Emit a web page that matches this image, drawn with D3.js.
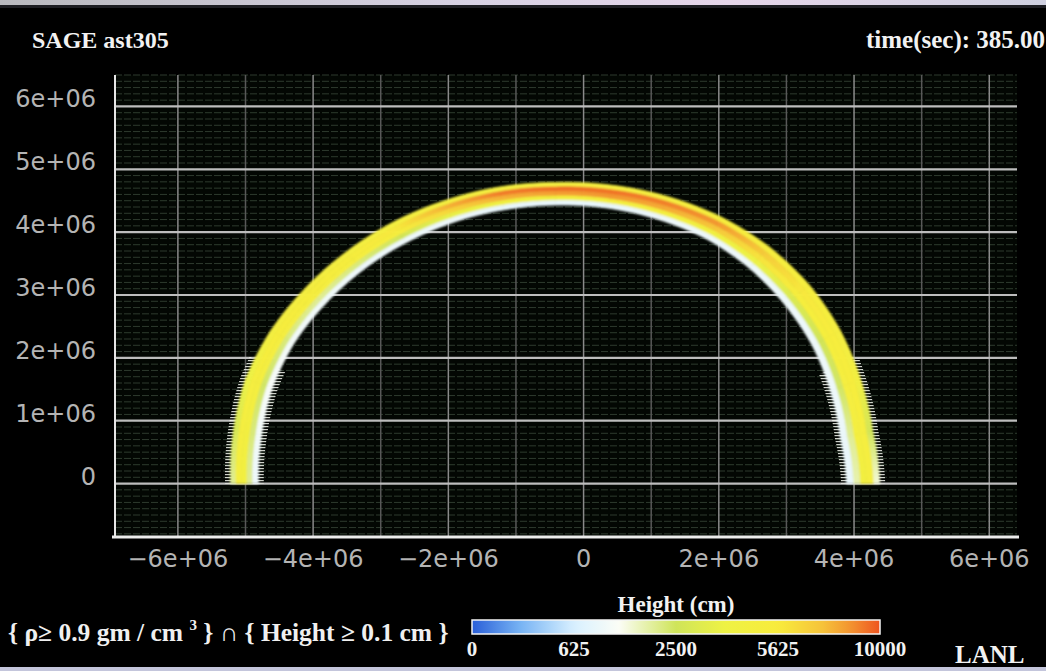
<!DOCTYPE html>
<html>
<head>
<meta charset="utf-8">
<script src="https://cdn.jsdelivr.net/npm/d3@7"></script>
<style>
  html, body { margin: 0; padding: 0; background: #000; overflow: hidden; }
  svg { display: block; }
</style>
</head>
<body>
<svg id="chart" width="1046" height="671"></svg>
<script>
// ---------------- data ----------------
const xTickValues = [-6e6, -4e6, -2e6, 0, 2e6, 4e6, 6e6];
const xTickLabels = ["\u22126e+06", "\u22124e+06", "\u22122e+06", "0", "2e+06", "4e+06", "6e+06"];
const yTickValues = [0, 1e6, 2e6, 3e6, 4e6, 5e6, 6e6];
const yTickLabels = ["0", "1e+06", "2e+06", "3e+06", "4e+06", "5e+06", "6e+06"];
const colorbarTicks = [0, 625, 2500, 5625, 10000];
const colorbarTickLabels = ["0", "625", "2500", "5625", "10000"];

// ring of ejecta: centre on the x axis, sampled by polar angle (degrees)
const ringCenterX = -0.42e6;
const ringAngles = [0, 10, 20, 30, 40, 50, 60, 70, 80, 90, 100, 110, 120, 130, 140, 150, 160, 170, 180];
const ringOuterRadius = [4.80e6, 4.77e6, 4.81e6, 4.87e6, 4.91e6, 4.92e6, 4.90e6, 4.86e6, 4.82e6, 4.79e6,
                         4.79e6, 4.79e6, 4.80e6, 4.81e6, 4.83e6, 4.86e6, 4.87e6, 4.83e6, 4.80e6];
const ringInnerRadius = [4.31e6, 4.28e6, 4.33e6, 4.39e6, 4.43e6, 4.47e6, 4.49e6, 4.47e6, 4.45e6, 4.43e6,
                         4.42e6, 4.42e6, 4.42e6, 4.43e6, 4.44e6, 4.46e6, 4.45e6, 4.41e6, 4.39e6];
// height (cm) in five shells across the ring, outermost first
const heightShell0 = [1500, 2600, 4600, 5000, 5200, 5300, 5200, 5000, 5000, 4800, 4800, 4800, 4800, 4800, 4900, 4800, 3800, 2800, 2000];
const heightShell1 = [4800, 5000, 5200, 5400, 5800, 7000, 8500, 9000, 9300, 9400, 9100, 7800, 5800, 5300, 5200, 5200, 5000, 4900, 4800];
const heightShell2 = [4600, 4800, 5000, 5100, 5300, 6000, 7200, 8000, 8500, 8300, 7800, 6500, 5200, 5000, 5000, 5000, 4900, 4700, 4500];
const heightShell3 = [1800, 2000, 2400, 2600, 3000, 3800, 4400, 4800, 4800, 4600, 4300, 3600, 2600, 2200, 2000, 2200, 2400, 2200, 2000];
const heightShell4 = [900, 950, 1000, 1000, 1000, 1000, 1000, 1000, 900, 900, 900, 1000, 1000, 1000, 1050, 1100, 1200, 1100, 1000];
const heightShells = [heightShell0, heightShell1, heightShell2, heightShell3, heightShell4];
// angular extent (degrees) of the ragged low-height fringe at each foot of the ring
const fringeRight = [0, 24];
const fringeLeft = [156, 180];

// ---------------- layout ----------------
const W = 1046, H = 671;
const plot = { left: 115, right: 1017, top: 75, bottom: 537 };

const svg = d3.select("#chart");
const defs = svg.append("defs");

svg.append("rect").attr("width", W).attr("height", H).attr("fill", "#000");

// light frame edges at top and bottom of the screen
const topGrad = defs.append("linearGradient").attr("id", "topEdge").attr("x1", 0).attr("x2", 1).attr("y1", 0).attr("y2", 0);
[["0", "#b9b9be"], ["0.45", "#d8d2e4"], ["0.7", "#e6d6ea"], ["1", "#cfd0e0"]]
  .forEach(([o, c]) => topGrad.append("stop").attr("offset", o).attr("stop-color", c));
svg.append("rect").attr("x", 0).attr("y", 0).attr("width", W).attr("height", 5).attr("fill", "url(#topEdge)");
svg.append("rect").attr("x", 0).attr("y", 5).attr("width", W).attr("height", 3).attr("fill", "#3a3a44").attr("opacity", 0.5);
svg.append("rect").attr("x", 0).attr("y", 667).attr("width", W).attr("height", 4).attr("fill", "#c4c6dc");

const x = d3.scaleLinear().domain([-6.93e6, 6.41e6]).range([plot.left, plot.right]);
const y = d3.scaleLinear().domain([-0.85e6, 6.5e6]).range([plot.bottom, plot.top]);

// colour scale: sqrt of height mapped onto a blue-white-yellow-red ramp
const tOf = d3.scaleSqrt().domain([0, 10000]).range([0, 1]).clamp(true);
const rampStops = [0, 0.12, 0.25, 0.36, 0.5, 0.62, 0.75, 0.86, 0.93, 1];
const rampColors = ["#2a5fd8", "#78b4f4", "#d8f0ff", "#fbfdf6", "#cfe45a", "#eef244", "#f8ec3c", "#f6c23a", "#f39230", "#ee5420"];
const ramp = d3.scaleLinear().domain(rampStops).range(rampColors).interpolate(d3.interpolateRgb);
const heightColor = h => ramp(tOf(h));

// ---------------- grid ----------------
const grid = svg.append("g");
grid.append("rect").attr("x", plot.left).attr("y", plot.top)
  .attr("width", plot.right - plot.left).attr("height", plot.bottom - plot.top).attr("fill", "#030703");

const fineY = d3.range(-8, 66).map(k => k * 1e5);
grid.selectAll("line.fine").data(fineY).join("line")
  .attr("x1", plot.left).attr("x2", plot.right)
  .attr("y1", d => y(d)).attr("y2", d => y(d))
  .attr("stroke", "#2e3b2e").attr("stroke-width", 1).attr("stroke-dasharray", "7,2");

const vLines = d3.range(-6, 7).map(k => k * 1e6);
grid.selectAll("line.v").data(vLines).join("line")
  .attr("x1", d => x(d)).attr("x2", d => x(d))
  .attr("y1", plot.top).attr("y2", plot.bottom)
  .attr("stroke", d => (Math.round(d / 1e6) % 2 === 0) ? "#8a8a8a" : "#585858")
  .attr("stroke-width", 1.5);

grid.selectAll("line.h").data(yTickValues).join("line")
  .attr("x1", plot.left).attr("x2", plot.right)
  .attr("y1", d => y(d)).attr("y2", d => y(d))
  .attr("stroke", "#bdbdbd").attr("stroke-width", 2.2);

// ---------------- ring ----------------
const toRad = Math.PI / 180;
const px = (r, a) => [x(ringCenterX + r * Math.cos(a * toRad)), y(r * Math.sin(a * toRad))];
const radiusAt = (arr, a) => d3.scaleLinear().domain(ringAngles).range(arr)(a);

// ragged fringe: horizontal scan-line hatching just outside both edges near the feet
const hatch = defs.append("pattern").attr("id", "hatch").attr("patternUnits", "userSpaceOnUse")
  .attr("width", 4).attr("height", 3);
hatch.append("rect").attr("x", 0).attr("y", 0).attr("width", 4).attr("height", 1.2).attr("fill", "#f2f5ec");

const fringe = svg.append("g").attr("opacity", 0.85);
[fringeRight, fringeLeft].forEach(([aStart, aEnd]) => {
  [ringOuterRadius, ringInnerRadius].forEach(arr => {
    const angles = d3.range(aStart, aEnd + 0.01, 1);
    const pts = angles.map(a => px(radiusAt(arr, a), a));
    fringe.append("path").attr("d", d3.line()(pts))
      .attr("fill", "none").attr("stroke", "url(#hatch)").attr("stroke-width", 11);
  });
});

const blur = defs.append("filter").attr("id", "soft").attr("x", "-5%").attr("y", "-5%").attr("width", "110%").attr("height", "110%");
blur.append("feGaussianBlur").attr("stdDeviation", 1.1);

const ring = svg.append("g").attr("filter", "url(#soft)");
const nShell = heightShells.length;
const sub = 8;

for (let i = 0; i < ringAngles.length - 1; i++) {
  const a0 = ringAngles[i], a1 = ringAngles[i + 1];
  const ro0 = ringOuterRadius[i], ro1 = ringOuterRadius[i + 1];
  const ri0 = ringInnerRadius[i], ri1 = ringInnerRadius[i + 1];
  for (let j = 0; j < nShell; j++) {
    const f0 = j / nShell, f1 = (j + 1) / nShell;
    const edge = (f, s) => {
      const u = s / sub;
      const a = a0 + (a1 - a0) * u;
      const ro = ro0 + (ro1 - ro0) * u, ri = ri0 + (ri1 - ri0) * u;
      return px(ro - f * (ro - ri), a);
    };
    const pts = [];
    for (let s = 0; s <= sub; s++) pts.push(edge(f0, s));
    for (let s = sub; s >= 0; s--) pts.push(edge(f1, s));

    const fm = (f0 + f1) / 2;
    const p0 = edge(fm, 0), p1 = edge(fm, sub);
    const gid = `cell-${i}-${j}`;
    const g = defs.append("linearGradient").attr("id", gid).attr("gradientUnits", "userSpaceOnUse")
      .attr("x1", p0[0]).attr("y1", p0[1]).attr("x2", p1[0]).attr("y2", p1[1]);
    g.append("stop").attr("offset", 0).attr("stop-color", heightColor(heightShells[j][i]));
    g.append("stop").attr("offset", 1).attr("stop-color", heightColor(heightShells[j][i + 1]));

    ring.append("path").attr("d", "M" + pts.map(p => p.join(",")).join("L") + "Z")
      .attr("fill", `url(#${gid})`).attr("stroke", `url(#${gid})`).attr("stroke-width", 0.8);
  }
}

// ---------------- axes ----------------
svg.append("line").attr("x1", plot.left).attr("x2", plot.left).attr("y1", plot.top).attr("y2", plot.bottom + 1)
  .attr("stroke", "#e6e6e6").attr("stroke-width", 2);
svg.append("line").attr("x1", plot.left - 3).attr("x2", plot.right + 2).attr("y1", plot.bottom).attr("y2", plot.bottom)
  .attr("stroke", "#ececec").attr("stroke-width", 3);

const tickFont = "'DejaVu Sans', sans-serif";
svg.selectAll("text.ytick").data(yTickValues).join("text")
  .attr("x", 96).attr("y", d => y(d) + 1)
  .attr("text-anchor", "end").attr("font-family", tickFont).attr("font-size", 24)
  .attr("fill", "#b4b4b4").text((d, i) => yTickLabels[i]);

svg.selectAll("text.xtick").data(xTickValues).join("text")
  .attr("x", d => x(d)).attr("y", 567)
  .attr("text-anchor", "middle").attr("font-family", tickFont).attr("font-size", 24)
  .attr("fill", "#b4b4b4").text((d, i) => xTickLabels[i]);

// ---------------- captions ----------------
const serif = "'Liberation Serif', 'Times New Roman', serif";
svg.append("text").attr("x", 32).attr("y", 48).attr("font-family", serif).attr("font-weight", "bold")
  .attr("font-size", 24).attr("fill", "#f2f2f2").text("SAGE ast305");
svg.append("text").attr("x", 866).attr("y", 48).attr("font-family", serif).attr("font-weight", "bold")
  .attr("font-size", 25).attr("fill", "#f2f2f2").text("time(sec): 385.00");

const cond = svg.append("text").attr("x", 8).attr("y", 641).attr("font-family", serif).attr("font-weight", "bold")
  .attr("font-size", 25.5).attr("fill", "#f0f0f0");
cond.append("tspan").text("{ \u03c1\u2265 0.9 gm / cm ");
cond.append("tspan").attr("font-size", 15).attr("dy", -11).text("3");
cond.append("tspan").attr("dy", 11).text(" } \u2229 { Height \u2265 0.1 cm }");

svg.append("text").attr("x", 955).attr("y", 663).attr("font-family", serif).attr("font-weight", "bold")
  .attr("font-size", 25).attr("fill", "#f2f2f2").text("LANL");

// ---------------- colour bar ----------------
const cb = { x0: 472, x1: 880, y: 620, h: 14 };
const cbScale = d3.scaleSqrt().domain([0, 10000]).range([cb.x0, cb.x1]);
const cbGrad = defs.append("linearGradient").attr("id", "cbGrad").attr("x1", 0).attr("x2", 1).attr("y1", 0).attr("y2", 0);
d3.range(0, 1.0001, 0.02).forEach(t => cbGrad.append("stop").attr("offset", t).attr("stop-color", ramp(t)));
svg.append("rect").attr("x", cb.x0).attr("y", cb.y).attr("width", cb.x1 - cb.x0).attr("height", cb.h)
  .attr("fill", "url(#cbGrad)").attr("stroke", "#f4f4f4").attr("stroke-width", 1.5);

svg.append("text").attr("x", 676).attr("y", 612).attr("text-anchor", "middle").attr("font-family", serif)
  .attr("font-weight", "bold").attr("font-size", 23).attr("fill", "#f2f2f2").text("Height (cm)");

svg.selectAll("text.cbtick").data(colorbarTicks).join("text")
  .attr("x", d => cbScale(d)).attr("y", 656).attr("text-anchor", "middle").attr("font-family", serif)
  .attr("font-weight", "bold").attr("font-size", 21).attr("fill", "#f2f2f2")
  .text((d, i) => colorbarTickLabels[i]);
</script>
</body>
</html>
